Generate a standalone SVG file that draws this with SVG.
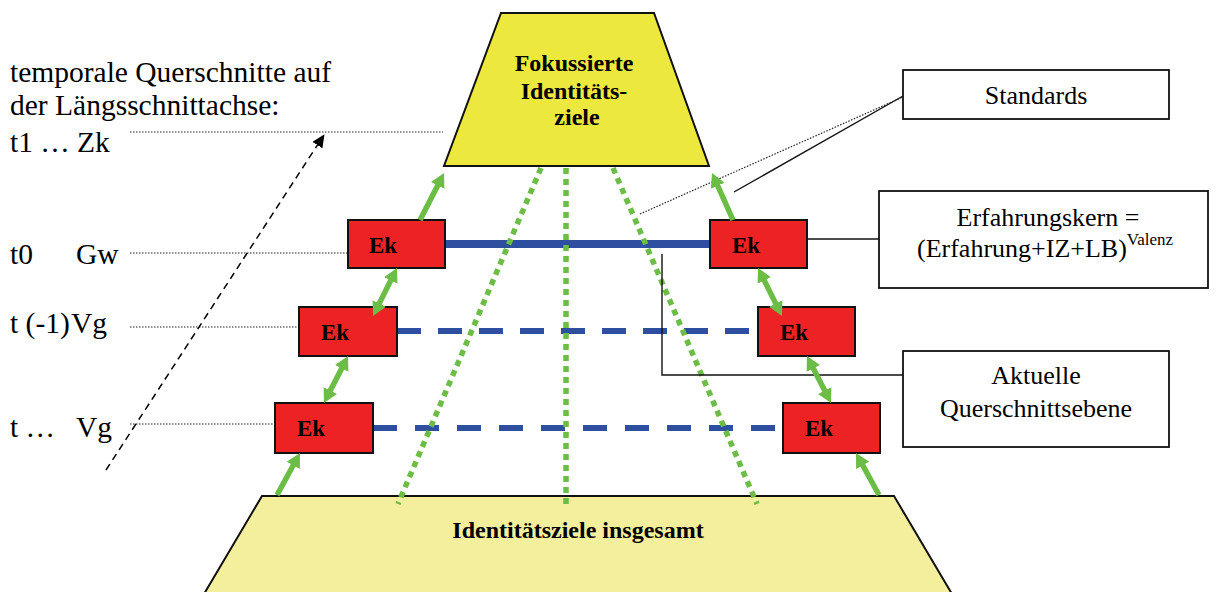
<svg xmlns="http://www.w3.org/2000/svg" width="1216" height="592" viewBox="0 0 1216 592">
  <style>
    .serif { font-family: "Liberation Serif", "Times New Roman", serif; fill: #000; }
    .lbl { font-size: 29.5px; }
    .box-txt { font-size: 26px; }
    .bold { font-weight: bold; }
    .ek rect { fill: #ed2224; stroke: #111; stroke-width: 2; }
    .ek text { font-size: 23px; font-weight: bold; }
    .note rect { fill: #fff; stroke: #111; stroke-width: 1.8; }
    .dots { stroke: #222; stroke-width: 1.2; stroke-dasharray: 1.5 1.5; fill: none; }
    .thin { stroke: #111; stroke-width: 1.4; fill: none; }
    .green-dots { stroke: #6bbd45; stroke-width: 5.5; stroke-dasharray: 6 5; fill: none; }
    .green-arrow { stroke: #6bbd45; stroke-width: 5.5; fill: none; }
    .blue { stroke: #2e4f9f; fill: none; }
  </style>
  <defs>
    <marker id="gHead" markerUnits="userSpaceOnUse" markerWidth="16" markerHeight="16" viewBox="0 0 16 16" refX="4" refY="8" orient="auto-start-reverse">
      <path d="M0,0.5 L14,8 L0,15.5 z" fill="#6bbd45"/>
    </marker>
    <marker id="kHead" markerUnits="userSpaceOnUse" markerWidth="14" markerHeight="12" viewBox="0 0 14 12" refX="2" refY="6" orient="auto">
      <path d="M0,0 L13,6 L0,12 z" fill="#000"/>
    </marker>
  </defs>

  <!-- base level: all identity goals -->
  <g id="node-identitaetsziele">
    <polygon points="262,496 894,496 952,594 204,594" fill="#f3ef9c" stroke="#111" stroke-width="2"/>
    <text class="serif bold" x="578" y="538" font-size="24" text-anchor="middle">Identitätsziele insgesamt</text>
  </g>

  <!-- cross-section levels (blue) -->
  <g id="levels">
    <line class="blue" x1="445" y1="244" x2="710" y2="244" stroke-width="8"/>
    <line class="blue" x1="397" y1="331" x2="758" y2="331" stroke-width="6" stroke-dasharray="24 17"/>
    <line class="blue" x1="373" y1="428" x2="782" y2="428" stroke-width="6" stroke-dasharray="24 18"/>
  </g>

  <!-- focus cone (green dotted) -->
  <g id="cone">
    <line class="green-dots" x1="541" y1="168" x2="398" y2="504"/>
    <line class="green-dots" x1="566" y1="168" x2="566" y2="504"/>
    <line class="green-dots" x1="613" y1="168" x2="757" y2="504"/>
  </g>

  <!-- top level: focused identity goals -->
  <g id="node-fokussierte">
    <polygon points="501,13 654,13 709,166 444,166" fill="#ede83e" stroke="#111" stroke-width="2"/>
    <text class="serif bold" font-size="24" text-anchor="middle">
      <tspan x="577" y="71">Fokussierte</tspan>
      <tspan x="577" y="99">Identitäts-</tspan>
      <tspan x="577" y="125">ziele</tspan>
    </text>
  </g>

  <!-- time axis labels -->
  <g id="time-axis">
    <text class="serif lbl" x="10" y="82">temporale Querschnitte auf</text>
    <text class="serif lbl" x="10" y="115">der Längsschnittachse:</text>
    <text class="serif lbl" y="152"><tspan x="10">t1 …</tspan><tspan x="77">Zk</tspan></text>
    <text class="serif lbl" y="264"><tspan x="10">t0</tspan><tspan x="76">Gw</tspan></text>
    <text class="serif lbl" y="333"><tspan x="10">t (-1)</tspan><tspan x="71">Vg</tspan></text>
    <text class="serif lbl" y="437"><tspan x="10">t …</tspan><tspan x="76">Vg</tspan></text>
  </g>

  <!-- connectors -->
  <g id="connectors">
    <line class="dots" x1="130" y1="132" x2="443" y2="132"/>
    <line class="dots" x1="130" y1="253" x2="347" y2="253"/>
    <line class="dots" x1="130" y1="327" x2="299" y2="327"/>
    <line class="dots" x1="130" y1="424" x2="275" y2="424"/>
    <line x1="106" y1="470" x2="318.5" y2="143.4" stroke="#000" stroke-width="1.5" stroke-dasharray="7 5" marker-end="url(#kHead)"/>

    <line class="thin" x1="734" y1="192" x2="903" y2="96"/>
    <line class="dots" x1="640" y1="214" x2="903" y2="97"/>
    <line class="thin" x1="807" y1="239" x2="879" y2="239"/>
    <polyline class="thin" points="662,254 662,375 903,375"/>
  </g>

  <!-- experience cores -->
  <g id="ek-left-0" class="ek"><rect x="348" y="220" width="97" height="48"/><text class="serif" x="369" y="253">Ek</text></g>
  <g id="ek-right-0" class="ek"><rect x="710" y="220" width="97" height="48"/><text class="serif" x="732" y="253">Ek</text></g>
  <g id="ek-left-1" class="ek"><rect x="299" y="307" width="98" height="49"/><text class="serif" x="321" y="340">Ek</text></g>
  <g id="ek-right-1" class="ek"><rect x="758" y="307" width="97" height="49"/><text class="serif" x="780" y="340">Ek</text></g>
  <g id="ek-left-2" class="ek"><rect x="275" y="403" width="98" height="50"/><text class="serif" x="297" y="436">Ek</text></g>
  <g id="ek-right-2" class="ek"><rect x="783" y="403" width="97" height="50"/><text class="serif" x="805" y="436">Ek</text></g>

  <!-- green arrows -->
  <g id="arrows">
    <line class="green-arrow" x1="277" y1="495" x2="295.2" y2="461.8" marker-end="url(#gHead)"/>
    <line class="green-arrow" x1="879" y1="495" x2="860.8" y2="461.8" marker-end="url(#gHead)"/>
    <line class="green-arrow" x1="420" y1="220" x2="439.5" y2="181.9" marker-end="url(#gHead)"/>
    <line class="green-arrow" x1="733" y1="220" x2="716.1" y2="182.1" marker-end="url(#gHead)"/>
    <line class="green-arrow" x1="392.5" y1="276.9" x2="377.5" y2="307.1" marker-start="url(#gHead)" marker-end="url(#gHead)"/>
    <line class="green-arrow" x1="343.5" y1="364.9" x2="328.5" y2="394.1" marker-start="url(#gHead)" marker-end="url(#gHead)"/>
    <line class="green-arrow" x1="762.5" y1="276.9" x2="777.5" y2="307.1" marker-start="url(#gHead)" marker-end="url(#gHead)"/>
    <line class="green-arrow" x1="811.5" y1="364.9" x2="826.5" y2="394.1" marker-start="url(#gHead)" marker-end="url(#gHead)"/>
  </g>

  <!-- annotation boxes -->
  <g id="note-standards" class="note">
    <rect x="903" y="70" width="266" height="49"/>
    <text class="serif box-txt" x="1036" y="104" text-anchor="middle">Standards</text>
  </g>
  <g id="note-erfahrungskern" class="note">
    <rect x="879" y="191" width="329" height="97"/>
    <text class="serif box-txt" x="1048" y="226" text-anchor="middle">Erfahrungskern =</text>
    <text class="serif box-txt" x="917" y="257">(Erfahrung+IZ+LB)<tspan font-size="17" dy="-12">Valenz</tspan></text>
  </g>
  <g id="note-aktuelle" class="note">
    <rect x="903" y="351" width="266" height="96"/>
    <text class="serif box-txt" x="1036" y="384" text-anchor="middle">Aktuelle</text>
    <text class="serif box-txt" x="1036" y="417" text-anchor="middle">Querschnittsebene</text>
  </g>
</svg>
